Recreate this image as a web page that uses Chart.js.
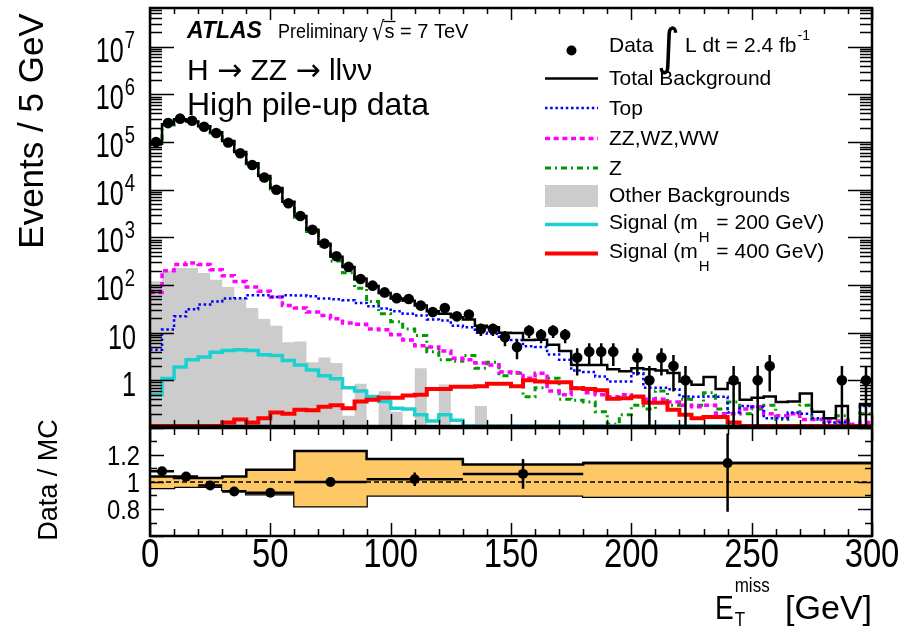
<!DOCTYPE html>
<html>
<head>
<meta charset="utf-8">
<title>H to ZZ to llvv - missing ET</title>
<script src="https://cdn.jsdelivr.net/npm/chart.js@4.4.1/dist/chart.umd.min.js"></script>
<style>
  body { margin: 0; background: #fff; }
  #wrap { position: relative; width: 912px; height: 627px; }
  canvas { position: absolute; left: 0; }
</style>
</head>
<body>
<div id="wrap">
  <canvas id="mainChart" width="912" height="427" style="top:0"></canvas>
  <canvas id="ratioChart" width="912" height="227" style="top:400px"></canvas>
</div>
<script>
// binning of the upper panel: 60 bins of 5 GeV
var binWidth = 5;
var nBins = 60;

var dataCounts = [100000, 250000, 310000, 280000, 210000, 155000, 98000, 58000, 33000, 18000,
    10000, 5200, 2800, 1440, 740, 400, 240, 134, 97, 70,
    53, 51, 37, 27, 33, 22, 24, 12, 12, 8,
    5, 11, 9, 11, 9, 3, 4, 4, 4, 0,
    3, 1, 3, 2, 1, 0, 0, 0, 1, 0,
    1, 2, 0, 0, 0, 0, 0, 1, 0, 1];

var totalBkg = [92000, 235000, 300000, 270000, 215000, 160000, 105000, 62000, 36000, 19500,
    10800, 5600, 2800, 1450, 730, 390, 240, 135, 95, 68,
    52, 47, 37, 28, 25, 21, 19, 14, 13, 10,
    9.8, 7, 7.1, 5.6, 4.1, 2.1, 2.1, 2.1, 1.7, 1.55,
    1.8, 1.7, 1.6, 1.43, 0.95, 0.81, 1.17, 0.66, 0.88, 0.39,
    0.43, 0.46, 0.35, 0.36, 0.53, 0.22, 0.16, 0.29, 0.1, 0.32];

var topBkg = [4.4, 11.6, 22, 31, 39, 45, 52, 53, 61, 61,
    56, 61, 60, 58, 52, 50, 48, 42, 36, 32,
    28, 25, 23, 19, 18, 14, 13, 10, 9.5, 7.5,
    7, 5.2, 5, 3.5, 2.7, 1.6, 1.5, 1.2, 0.95, 0.95,
    1.4, 0.7, 0.7, 0.65, 0.46, 0.45, 0.46, 0.45, 0.21, 0.29,
    0.28, 0.16, 0.16, 0.21, 0.2, 0.16, 0.13, 0.13, 0.1, 0.29];

var dibosonBkg = [70, 200, 270, 290, 270, 210, 156, 119, 91, 74,
    56, 37, 33, 27, 23, 19.5, 16, 15, 12, 11.5,
    9, 7, 5.3, 5, 4.1, 2.9, 2.7, 2.3, 2.1, 1.5,
    1.45, 1.1, 1.4, 0.6, 0.5, 0.7, 0.55, 0.5, 0.45, 0.5,
    0.45, 0.4, 0.4, 0.35, 0.3, 0.28, 0.3, 0.2, 0.2, 0.25,
    0.28, 0.2, 0.18, 0.2, 0.15, 0.15, 0.14, 0.14, 0.12, 0.13];

var zBkg = [89000, 228000, 290000, 262000, 208000, 155000, 101000, 60000, 34500, 18700,
    10300, 5300, 2640, 1330, 660, 320, 180, 85, 45, 25,
    17, 12, 8.7, 4, 2.7, 2.5, 3.3, 1.8, 2.4, 1.25,
    1.4, 0.45, 0.7, 1.1, 0.4, 0.38, 0.35, 0.22, 0.12, 0.19,
    0.3, 0.25, 0.6, 0.3, 0.4, 0.3, 0.55, 0.25, 0.35, 0.2,
    0.25, 0.3, 0.15, 0.2, 0.3, 0.15, 0.1, 0.18, 0.05, 0.2];

var otherBkg = [120, 200, 228, 228, 178, 129, 91, 53, 33, 19.4,
    14, 6.3, 6.5, 2.4, 3.0, 2.3, 0.18, 0.85, 0, 0.59,
    0.22, 0, 1.8, 0, 0.82, 0, 0, 0.29, 0, 0,
    0, 0, 0, 0, 0, 0, 0, 0, 0, 0,
    0, 0, 0, 0, 0, 0, 0, 0, 0, 0,
    0, 0, 0, 0, 0, 0, 0, 0, 0, 0];

var signal200 = [0.5, 1.09, 1.9, 2.7, 3.1, 3.9, 4.2, 4.4, 4.2, 3.45,
    3.3, 2.6, 2.1, 1.65, 1.25, 1.08, 0.7, 0.6, 0.46, 0.36,
    0.26, 0.25, 0.19, 0.14, 0.19, 0.145, 0, 0, 0, 0,
    0, 0, 0, 0, 0, 0, 0, 0, 0, 0,
    0, 0, 0, 0, 0, 0, 0, 0, 0, 0,
    0, 0, 0, 0, 0, 0, 0, 0, 0, 0];

var signal400 = [0, 0, 0, 0, 0, 0, 0.13, 0.15, 0.13, 0.16,
    0.21, 0.2, 0.24, 0.235, 0.28, 0.3, 0.26, 0.36, 0.39, 0.43,
    0.43, 0.48, 0.5, 0.66, 0.66, 0.73, 0.73, 0.75, 0.85, 0.85,
    0.75, 1.0, 0.95, 0.91, 0.91, 0.68, 0.66, 0.62, 0.41, 0.42,
    0.46, 0.34, 0.34, 0.24, 0.19, 0.16, 0.17, 0.17, 0.13, 0,
    0, 0, 0, 0, 0, 0, 0, 0, 0, 0];

// ratio panel, variable bins
var ratioEdges = [0, 10, 20, 30, 40, 60, 90, 130, 180, 300];
var ratioValues = [1.08, 1.04, 0.975, 0.93, 0.92, 1.0, 1.02, 1.06, 1.14];
var ratioErrUp = [0.012, 0.01, 0.01, 0.01, 0.012, 0.015, 0.05, 0.11, 0.22];
var ratioErrDown = [0.012, 0.01, 0.01, 0.01, 0.012, 0.015, 0.05, 0.11, 0.36];
var bandUp = [1.04, 1.03, 1.03, 1.04, 1.09, 1.23, 1.17, 1.13, 1.14];
var bandDown = [0.955, 0.965, 0.965, 0.94, 0.91, 0.82, 0.9, 0.9, 0.89];

// axes
var xMin = 0, xMax = 300;
var yMin = 0.11, yMax = 6.5e7;
var ratioMin = 0.6, ratioMax = 1.4;
var xTickLabels = [0, 50, 100, 150, 200, 250, 300];
var yTickValues = [1, 10, 1e2, 1e3, 1e4, 1e5, 1e6, 1e7];
var yTickExps = [null, null, '2', '3', '4', '5', '6', '7'];
var ratioTickValues = [0.8, 1, 1.2];
var ratioTickLabels = ['0.8', '1', '1.2'];

var fontFamily = "'Liberation Sans', Arial, Helvetica, sans-serif";
var symbolFamily = "'DejaVu Sans', sans-serif";

function histPoints(values, edges) {
    var pts = [];
    for (var i = 0; i < values.length; i++) {
        var x = edges ? edges[i] : i * binWidth;
        pts.push({ x: x, y: values[i] > 0 ? values[i] : yMin });
    }
    pts.push({ x: edges ? edges[edges.length - 1] : nBins * binWidth, y: pts[pts.length - 1].y });
    return pts;
}

function drawText(ctx, str, x, y, size, opts) {
    opts = opts || {};
    ctx.save();
    ctx.font = (opts.style || '') + ' ' + size + 'px ' + (opts.family || fontFamily);
    ctx.fillStyle = '#000';
    ctx.textAlign = 'left';
    ctx.textBaseline = 'alphabetic';
    var sx = opts.sx || 1, sy = opts.sy || 1;
    var tw = ctx.measureText(str).width;
    var off = 0;
    if (opts.align === 'right') off = -tw;
    else if (opts.align === 'center') off = -tw / 2;
    ctx.translate(x, y);
    if (opts.rotate) ctx.rotate(opts.rotate);
    ctx.scale(sx, sy);
    ctx.fillText(str, off, 0);
    ctx.restore();
    return tw * sx;
}

function drawFrame(chart, xMinorLen, xMajorLen, yTicks) {
    var ctx = chart.ctx, a = chart.chartArea;
    var xs = chart.scales.x;
    ctx.save();
    ctx.strokeStyle = '#000';
    ctx.lineWidth = 1.5;
    ctx.beginPath();
    for (var g = xMin; g <= xMax; g += 10) {
        var px = Math.round(xs.getPixelForValue(g)) + 0.5;
        var len = g % 50 === 0 ? xMajorLen : xMinorLen;
        ctx.moveTo(px, a.bottom); ctx.lineTo(px, a.bottom - len);
        ctx.moveTo(px, a.top); ctx.lineTo(px, a.top + len);
    }
    yTicks.forEach(function (t) {
        ctx.moveTo(a.left, t.y); ctx.lineTo(a.left + t.len, t.y);
        ctx.moveTo(a.right, t.y); ctx.lineTo(a.right - t.len, t.y);
    });
    ctx.stroke();
    ctx.lineWidth = 2.5;
    ctx.strokeRect(a.left, a.top, a.right - a.left, a.bottom - a.top);
    ctx.restore();
}

// frame, ticks, error bars and all texts of the upper panel
var mainDecor = {
    id: 'mainDecor',
    afterDatasetsDraw: function (chart) {
        var ctx = chart.ctx, a = chart.chartArea;
        var xs = chart.scales.x, ys = chart.scales.y;
        // data error bars
        ctx.save();
        ctx.beginPath();
        ctx.rect(a.left, a.top, a.right - a.left, a.bottom - a.top);
        ctx.clip();
        ctx.strokeStyle = '#000';
        ctx.lineWidth = 2.5;
        ctx.beginPath();
        dataCounts.forEach(function (n, i) {
            if (n <= 0) return;
            var err = Math.sqrt(n);
            var px = xs.getPixelForValue((i + 0.5) * binWidth);
            var lo = n - err > 0 ? ys.getPixelForValue(n - err) : a.bottom + 5;
            ctx.moveTo(px, ys.getPixelForValue(n + err));
            ctx.lineTo(px, lo);
        });
        ctx.stroke();
        ctx.restore();
    },
    afterDraw: function (chart) {
        var ctx = chart.ctx;
        var ys = chart.scales.y;
        var ticks = [];
        for (var d = -1; d <= 7; d++) {
            for (var m = 1; m <= 9; m++) {
                var v = m * Math.pow(10, d);
                if (v < yMin || v > yMax) continue;
                ticks.push({ y: Math.round(ys.getPixelForValue(v)) + 0.5, len: m === 1 ? 24 : 12 });
            }
        }
        drawFrame(chart, 6, 12, ticks);

        // y tick labels
        yTickValues.forEach(function (v, i) {
            var py = ys.getPixelForValue(v);
            if (yTickExps[i]) {
                var ew = drawText(ctx, yTickExps[i], 135, py + 1, 23, { align: 'right', sx: 0.8 });
                drawText(ctx, '10', 135 - ew - 1, py + 15, 35, { align: 'right', sx: 0.72 });
            } else {
                drawText(ctx, String(v), 136, py + 16, 35, { align: 'right', sx: 0.72 });
            }
        });
        // y title
        drawText(ctx, 'Events / 5 GeV', 43, 131, 35, { align: 'center', rotate: -Math.PI / 2 });

        // header
        drawText(ctx, 'ATLAS', 187, 38, 23, { style: 'italic bold' });
        drawText(ctx, 'Preliminary', 278, 38, 19.5, { sx: 0.92 });
        var rx = 372;
        var rw = drawText(ctx, '\u221A', rx, 40, 26, { family: symbolFamily, sx: 0.75 });
        var sw = drawText(ctx, 's', rx + rw, 38, 20);
        ctx.save();
        ctx.strokeStyle = '#000';
        ctx.lineWidth = 1.3;
        ctx.beginPath();
        ctx.moveTo(rx + rw - 1, 21.5); ctx.lineTo(rx + rw + sw + 1, 21.5);
        ctx.stroke();
        ctx.restore();
        drawText(ctx, ' = 7 TeV', rx + rw + sw, 38, 20);

        var hx = 187;
        [['H ', fontFamily], ['\u2192', symbolFamily], [' ZZ ', fontFamily], ['\u2192', symbolFamily], [' ll\u03BD\u03BD', fontFamily]].forEach(function (p) {
            hx += drawText(ctx, p[0], hx, 80, 30, { family: p[1] });
        });
        drawText(ctx, 'High pile-up data', 187, 115, 32);

        // legend
        var lx = 545, lw = 53, tx = 609;
        ctx.save();
        ctx.fillStyle = '#000';
        ctx.beginPath();
        ctx.arc(571.5, 50.5, 5, 0, Math.PI * 2);
        ctx.fill();
        ctx.restore();
        drawText(ctx, 'Data', tx, 52, 21);
        drawText(ctx, '\u222B', 657, 64, 40, { family: symbolFamily, sy: 1.25, sx: 1.1 });
        var lw2 = drawText(ctx, 'L dt = 2.4 fb', 685, 52, 21);
        drawText(ctx, '-1', 685 + lw2 + 1, 40, 14);

        var rows = [
            { label: 'Total Background', y: 85, color: '#000', width: 2.5, dash: [] },
            { label: 'Top', y: 114.5, color: '#0000ff', width: 2.5, dash: [2.5, 2.7] },
            { label: 'ZZ,WZ,WW', y: 145, color: '#ff00ff', width: 3.5, dash: [5, 3.7] },
            { label: 'Z', y: 174.5, color: '#009900', width: 3, dash: [6, 4, 2, 4] }
        ];
        rows.forEach(function (r) {
            ctx.save();
            ctx.strokeStyle = r.color;
            ctx.lineWidth = r.width;
            ctx.setLineDash(r.dash);
            ctx.beginPath();
            ctx.moveTo(lx, r.y - 6.5); ctx.lineTo(lx + lw, r.y - 6.5);
            ctx.stroke();
            ctx.restore();
            drawText(ctx, r.label, tx, r.y, 21);
        });
        ctx.save();
        ctx.fillStyle = '#cccccc';
        ctx.fillRect(lx, 185, lw, 22);
        ctx.restore();
        drawText(ctx, 'Other Backgrounds', tx, 201.5, 21);

        [{ m: '200', y: 228.5, color: '#1ecfcf', width: 3.5 }, { m: '400', y: 257.5, color: '#ff0000', width: 4 }].forEach(function (s) {
            ctx.save();
            ctx.strokeStyle = s.color;
            ctx.lineWidth = s.width;
            ctx.beginPath();
            ctx.moveTo(lx, s.y - 4); ctx.lineTo(lx + lw, s.y - 4);
            ctx.stroke();
            ctx.restore();
            var w1 = drawText(ctx, 'Signal (m', tx, s.y, 21);
            var w2 = drawText(ctx, 'H', tx + w1 + 1, s.y + 13, 15);
            drawText(ctx, ' = ' + s.m + ' GeV)', tx + w1 + w2 + 2, s.y, 21);
        });
    }
};

// frame, ticks, error bars and texts of the ratio panel
var ratioDecor = {
    id: 'ratioDecor',
    afterDatasetsDraw: function (chart) {
        var ctx = chart.ctx, a = chart.chartArea;
        var xs = chart.scales.x, ys = chart.scales.y;
        ctx.save();
        ctx.beginPath();
        ctx.rect(a.left, a.top, a.right - a.left, a.bottom - a.top);
        ctx.clip();
        ctx.strokeStyle = '#000';
        ctx.lineWidth = 2.5;
        ctx.beginPath();
        ratioValues.forEach(function (r, i) {
            var py = ys.getPixelForValue(r);
            var px = xs.getPixelForValue((ratioEdges[i] + ratioEdges[i + 1]) / 2);
            ctx.moveTo(xs.getPixelForValue(ratioEdges[i]), py);
            ctx.lineTo(xs.getPixelForValue(ratioEdges[i + 1]), py);
            ctx.moveTo(px, ys.getPixelForValue(r + ratioErrUp[i]));
            ctx.lineTo(px, ys.getPixelForValue(r - ratioErrDown[i]));
        });
        ctx.stroke();
        ctx.restore();
    },
    afterDraw: function (chart) {
        var ctx = chart.ctx;
        var xs = chart.scales.x, ys = chart.scales.y;
        var ticks = [];
        for (var k = 6; k <= 14; k++) {
            ticks.push({ y: Math.round(ys.getPixelForValue(k / 10)) + 0.5, len: k % 2 === 0 ? 14 : 7 });
        }
        drawFrame(chart, 7, 13, ticks);

        ratioTickValues.forEach(function (v, i) {
            drawText(ctx, ratioTickLabels[i], 140, ys.getPixelForValue(v) + 10, 28, { align: 'right', sx: 0.85 });
        });
        xTickLabels.forEach(function (v) {
            drawText(ctx, String(v), xs.getPixelForValue(v), 167, 40, { align: 'center', sx: 0.82 });
        });
        drawText(ctx, 'Data / MC', 57, 80, 27, { align: 'center', rotate: -Math.PI / 2 });

        // x title
        var ew = drawText(ctx, 'E', 715, 219, 33, { sx: 0.85 });
        drawText(ctx, 'miss', 715 + ew + 1, 192, 20, { sx: 0.85 });
        drawText(ctx, 'T', 715 + ew + 1, 226, 20, { sx: 0.85 });
        drawText(ctx, '[GeV]', 872, 219, 34, { align: 'right' });
    }
};

var commonOptions = {
    responsive: false,
    animation: false,
    events: [],
    plugins: { legend: { display: false }, tooltip: { enabled: false } }
};

// Upper panel
var mainCtx = document.getElementById('mainChart').getContext('2d');
var mainChart = new Chart(mainCtx, {
    type: 'line',
    data: {
        datasets: [{
            label: 'Data',
            data: dataCounts.map(function (n, i) { return { x: (i + 0.5) * binWidth, y: n > 0 ? n : null }; }),
            showLine: false,
            pointRadius: 5.3,
            pointBackgroundColor: '#000',
            pointBorderWidth: 0
        }, {
            label: 'Total Background',
            data: histPoints(totalBkg),
            stepped: true,
            borderColor: '#000',
            borderWidth: 2.5,
            pointRadius: 0
        }, {
            label: 'Signal (mH = 400 GeV)',
            data: histPoints(signal400),
            stepped: true,
            borderColor: '#ff0000',
            borderWidth: 4,
            pointRadius: 0
        }, {
            label: 'Signal (mH = 200 GeV)',
            data: histPoints(signal200),
            stepped: true,
            borderColor: '#1ecfcf',
            borderWidth: 3.5,
            pointRadius: 0
        }, {
            label: 'Top',
            data: histPoints(topBkg),
            stepped: true,
            borderColor: '#0000ff',
            borderWidth: 2.5,
            borderDash: [2.5, 2.7],
            pointRadius: 0
        }, {
            label: 'ZZ,WZ,WW',
            data: histPoints(dibosonBkg),
            stepped: true,
            borderColor: '#ff00ff',
            borderWidth: 3.5,
            borderDash: [5, 3.7],
            pointRadius: 0
        }, {
            label: 'Z',
            data: histPoints(zBkg),
            stepped: true,
            borderColor: '#009900',
            borderWidth: 3,
            borderDash: [6, 4, 2, 4],
            pointRadius: 0
        }, {
            label: 'Other Backgrounds',
            data: histPoints(otherBkg),
            stepped: true,
            borderColor: 'rgba(0,0,0,0)',
            borderWidth: 0,
            backgroundColor: '#cccccc',
            fill: 'start',
            pointRadius: 0
        }]
    },
    options: Object.assign({}, commonOptions, {
        layout: { autoPadding: false, padding: { left: 150, right: 40, top: 8, bottom: 1 } },
        scales: {
            x: { type: 'linear', min: xMin, max: xMax, display: false },
            y: { type: 'logarithmic', min: yMin, max: yMax, display: false }
        }
    }),
    plugins: [mainDecor]
});

// Ratio panel
var ratioCtx = document.getElementById('ratioChart').getContext('2d');
var ratioChart = new Chart(ratioCtx, {
    type: 'line',
    data: {
        datasets: [{
            label: 'Data / MC',
            data: ratioValues.map(function (r, i) { return { x: (ratioEdges[i] + ratioEdges[i + 1]) / 2, y: r }; }),
            showLine: false,
            pointRadius: 5,
            pointBackgroundColor: '#000',
            pointBorderWidth: 0
        }, {
            label: 'unity',
            data: [{ x: xMin, y: 1 }, { x: xMax, y: 1 }],
            borderColor: '#000',
            borderWidth: 1.3,
            borderDash: [5, 3],
            pointRadius: 0
        }, {
            label: 'band up',
            data: histPoints(bandUp, ratioEdges),
            stepped: true,
            borderColor: '#000',
            borderWidth: 2.5,
            backgroundColor: '#fdc865',
            fill: '+1',
            pointRadius: 0
        }, {
            label: 'band down',
            data: histPoints(bandDown, ratioEdges),
            stepped: true,
            borderColor: '#000',
            borderWidth: 2.5,
            pointRadius: 0
        }]
    },
    options: Object.assign({}, commonOptions, {
        layout: { autoPadding: false, padding: { left: 150, right: 40, top: 28, bottom: 91 } },
        scales: {
            x: { type: 'linear', min: xMin, max: xMax, display: false },
            y: { type: 'linear', min: ratioMin, max: ratioMax, display: false }
        }
    }),
    plugins: [ratioDecor]
});
</script>
</body>
</html>
